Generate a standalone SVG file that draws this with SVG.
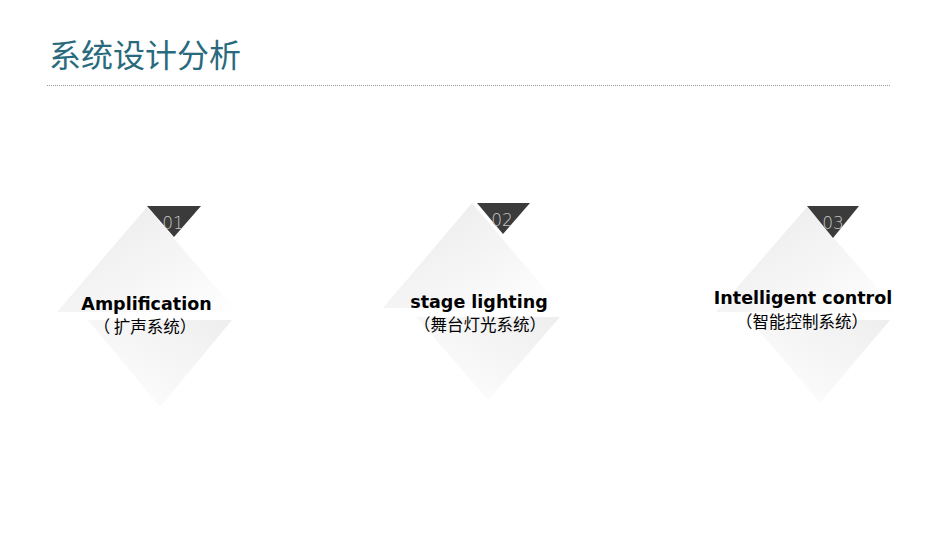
<svg xmlns="http://www.w3.org/2000/svg" width="950" height="535" viewBox="0 0 950 535">
<defs>
<linearGradient id="gUp" x1="0" y1="0" x2="1" y2="1">
<stop offset="0" stop-color="#e9e9e9"/>
<stop offset="1" stop-color="#ffffff"/>
</linearGradient>
<linearGradient id="gDown" x1="1" y1="0" x2="0" y2="1">
<stop offset="0" stop-color="#eeeeee"/>
<stop offset="1" stop-color="#ffffff"/>
</linearGradient>
<style>
.up{fill:url(#gUp)}
.down{fill:url(#gDown)}
.tag{fill:#3b3b3b}
.num{font-family:"DejaVu Sans","Liberation Sans",sans-serif;font-weight:200;font-size:17px;fill:#c4c4c4;text-anchor:middle}
.en{font-family:"DejaVu Sans","Liberation Sans",sans-serif;font-weight:bold;font-size:17.5px;fill:#000;text-anchor:middle}
.cn{font-family:"Noto Sans CJK SC","Noto Sans",sans-serif;font-size:16.5px;fill:#000;text-anchor:middle}
.title{font-family:"Noto Sans CJK SC","Noto Sans",sans-serif;font-weight:400;font-size:32px;fill:#296a7d}
</style>
</defs>
<rect width="950" height="535" fill="#ffffff"/>
<g id="header">
<text class="title" x="49" y="67">系统设计分析</text>
<line x1="47" y1="85.5" x2="890" y2="85.5" stroke="#9a9a9a" stroke-width="1" stroke-dasharray="1,1"/>
</g>
<g id="connectors"></g>
<g id="node1">
<polygon class="up" points="147,207 57,312 237,312"/>
<polygon class="down" points="88,320 232,320 160,407"/>
<polygon class="tag" points="147,206 201,206 174,237"/>
<text class="num" x="173" y="229">01</text>
<text class="en" x="146.5" y="310">Amplification</text>
<text class="cn" x="145" y="332.5">（ 扩声系统）</text>
</g>
<g id="node2">
<polygon class="up" points="472,203 383,308 561,308"/>
<polygon class="down" points="416,317 560,317 488,400"/>
<polygon class="tag" points="477,203 530,203 503,234"/>
<text class="num" x="502" y="226">02</text>
<text class="en" x="479" y="308">stage lighting</text>
<text class="cn" x="480" y="330.5">（舞台灯光系统）</text>
</g>
<g id="node3">
<polygon class="up" points="807,207 716,312 898,312"/>
<polygon class="down" points="750,320 890,320 820,403"/>
<polygon class="tag" points="807,206 859,206 833,238"/>
<text class="num" x="833" y="229">03</text>
<text class="en" x="803" y="304">Intelligent control</text>
<text class="cn" x="802" y="327.5">（智能控制系统）</text>
</g>
</svg>
